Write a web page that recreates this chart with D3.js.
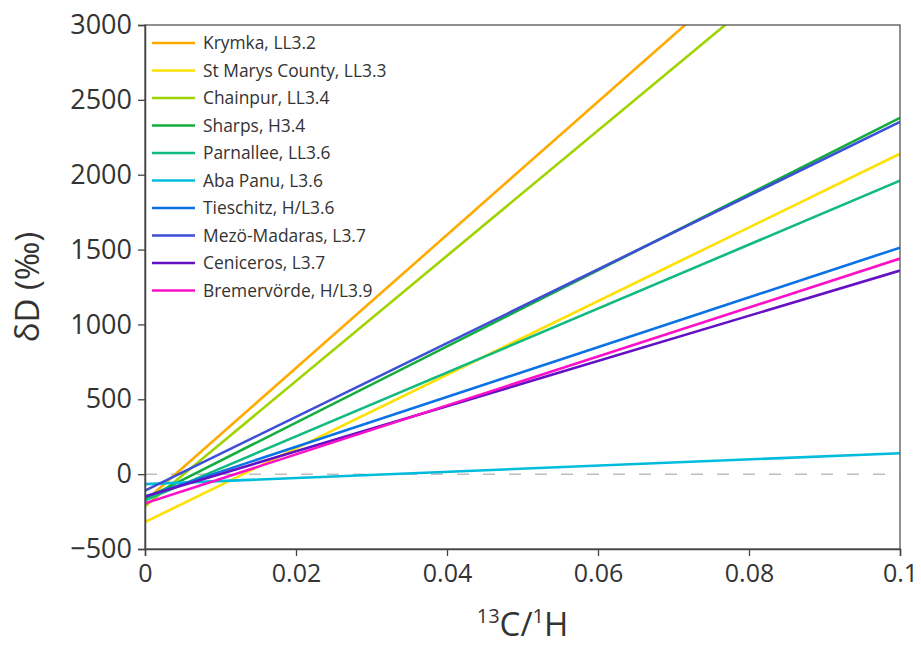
<!DOCTYPE html>
<html>
<head>
<meta charset="utf-8">
<script src="https://cdn.jsdelivr.net/npm/d3@7"></script>
<style>
  body { margin: 0; background: #fff; }
  svg { font-family: "Open Sans", sans-serif; }
</style>
</head>
<body>
<svg id="chart" width="921" height="646"></svg>
<script>
// meteorite names and petrologic types (legend text)
const names = ["Krymka, LL3.2", "St Marys County, LL3.3", "Chainpur, LL3.4", "Sharps, H3.4",
  "Parnallee, LL3.6", "Aba Panu, L3.6", "Tieschitz, H/L3.6", "Mezö-Madaras, L3.7",
  "Ceniceros, L3.7", "Bremervörde, H/L3.9"];
// dD value at 13C/1H = 0 and at 13C/1H = 0.1
const dDat0 = [-180, -320, -215, -165, -175, -67, -150, -110, -150, -195];
const dDat01 = [4266, 2140, 3969, 2380, 1960, 140, 1513, 2353, 1360, 1440];
const colors = ["#ffaa00", "#ffe000", "#9fd400", "#13ad3c", "#11bb80", "#00bcdc",
  "#0a72e6", "#3c4fd6", "#6410c4", "#ff10c8"];
const xTicks = [0, 0.02, 0.04, 0.06, 0.08, 0.1];
const yTicks = [-500, 0, 500, 1000, 1500, 2000, 2500, 3000];

const svg = d3.select("#chart");
const mLeft = 145, mRight = 900, mTop = 25, mBottom = 549;

const x = d3.scaleLinear().domain([0, 0.1]).range([mLeft, mRight]);
const y = d3.scaleLinear().domain([-500, 3000]).range([mBottom, mTop]);

svg.append("defs").append("clipPath").attr("id", "clip")
  .append("rect").attr("x", mLeft).attr("y", mTop)
  .attr("width", mRight - mLeft).attr("height", mBottom - mTop);

// zero reference line
svg.append("line")
  .attr("x1", x(0)).attr("x2", x(0.1))
  .attr("y1", y(0)).attr("y2", y(0))
  .attr("stroke", "#bdbdbd").attr("stroke-width", 1.5)
  .attr("stroke-dasharray", "12,14");

// lines
const plot = svg.append("g").attr("clip-path", "url(#clip)");
const lineGen = d3.line().x(d => x(d[0])).y(d => y(d[1]));
names.forEach(function(n, i) {
  plot.append("path")
    .datum([[0, dDat0[i]], [0.1, dDat01[i]]])
    .attr("d", lineGen)
    .attr("fill", "none")
    .attr("stroke", colors[i])
    .attr("stroke-width", 2.6);
});

// frame
svg.append("rect")
  .attr("x", mLeft).attr("y", mTop)
  .attr("width", mRight - mLeft).attr("height", mBottom - mTop)
  .attr("fill", "none").attr("stroke", "#555").attr("stroke-width", 1.3);

// axes
const xAxis = svg.append("g")
  .attr("transform", "translate(0," + mBottom + ")")
  .call(d3.axisBottom(x).tickValues(xTicks).tickSize(7).tickPadding(8)
    .tickFormat(d => d === 0 ? "0" : d3.format("~g")(d)));
const yAxis = svg.append("g")
  .attr("transform", "translate(" + mLeft + ",0)")
  .call(d3.axisLeft(y).tickValues(yTicks).tickSize(7).tickPadding(6)
    .tickFormat(d => d < 0 ? "\u2212" + Math.abs(d) : d));

[xAxis, yAxis].forEach(function(a) {
  a.select(".domain").attr("stroke", "#444").attr("stroke-width", 1.5);
  a.selectAll(".tick line").attr("stroke", "#444").attr("stroke-width", 1.3);
  a.selectAll(".tick text").attr("fill", "#333").attr("font-size", 27)
    .attr("font-family", "Open Sans");
});
xAxis.selectAll(".tick text").attr("font-size", 25);

// axis titles
svg.append("text")
  .attr("transform", "translate(39," + (mTop + mBottom) / 2 + ") rotate(-90)")
  .attr("text-anchor", "middle")
  .attr("font-size", 33).attr("fill", "#333")
  .text("δD (‰)");

const xt = svg.append("text")
  .attr("x", (mLeft + mRight) / 2).attr("y", 636)
  .attr("text-anchor", "middle")
  .attr("font-size", 33).attr("fill", "#333");
xt.append("tspan").attr("font-size", 20).attr("dy", -13).text("13");
xt.append("tspan").attr("dy", 13).text("C/");
xt.append("tspan").attr("font-size", 20).attr("dy", -13).text("1");
xt.append("tspan").attr("dy", 13).text("H");

// legend
const legend = svg.append("g").attr("transform", "translate(152,43)");
names.forEach(function(n, i) {
  const row = legend.append("g").attr("transform", "translate(0," + i * 27.5 + ")");
  row.append("line").attr("x1", 0).attr("x2", 43).attr("y1", 0).attr("y2", 0)
    .attr("stroke", colors[i]).attr("stroke-width", 2.6);
  row.append("text").attr("x", 51).attr("y", 6)
    .attr("font-size", 17.4).attr("fill", "#333").text(n);
});
</script>
</body>
</html>
